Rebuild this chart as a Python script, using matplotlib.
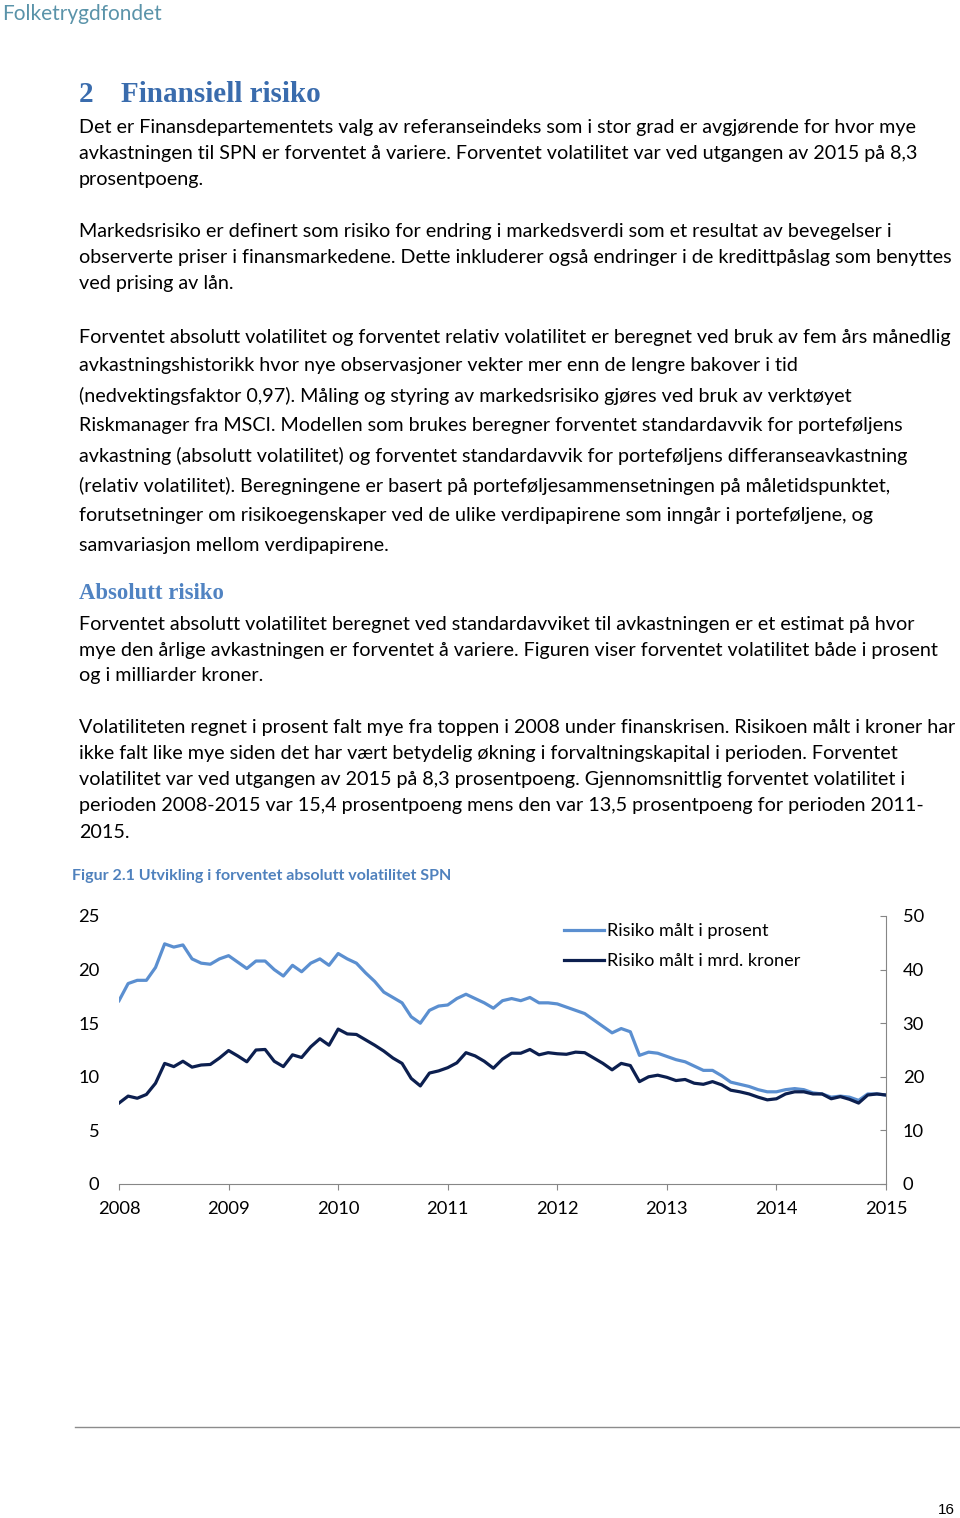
"""Page 16: Finansiell risiko with figure 2.1 (expected absolute volatility SPN)."""

import matplotlib

matplotlib.use("Agg")
import matplotlib.pyplot as plt
import numpy as np

# monthly observations, Jan 2008 .. Dec 2015 label span
risk_pct = [
    17.1, 18.7, 19.0, 19.0, 20.2, 22.4, 22.1, 22.3, 21.0, 20.6, 20.5, 21.0,
    21.3, 20.7, 20.1, 20.8, 20.8, 20.0, 19.4, 20.4, 19.8, 20.6, 21.0, 20.4,
    21.5, 21.0, 20.6, 19.7, 18.9, 17.9, 17.4, 16.9, 15.6, 15.0, 16.2, 16.6,
    16.7, 17.3, 17.7, 17.3, 16.9, 16.4, 17.1, 17.3, 17.1, 17.4, 16.9, 16.9,
    16.8, 16.5, 16.2, 15.9, 15.3, 14.7, 14.1, 14.5, 14.2, 12.0, 12.3, 12.2,
    11.9, 11.6, 11.4, 11.0, 10.6, 10.6, 10.1, 9.5, 9.3, 9.1, 8.8, 8.6,
    8.6, 8.8, 8.9, 8.8, 8.5, 8.4, 8.1, 8.2, 8.1, 7.8, 8.4, 8.4, 8.3,
]
risk_nok = [
    15.1, 16.4, 16.0, 16.7, 18.8, 22.5, 21.9, 22.9, 21.8, 22.2, 22.3, 23.5,
    24.9, 23.9, 22.8, 25.0, 25.1, 22.9, 21.9, 24.1, 23.6, 25.6, 27.1, 25.9,
    28.9, 28.0, 27.9, 26.9, 25.9, 24.8, 23.5, 22.5, 19.7, 18.3, 20.7, 21.1,
    21.7, 22.6, 24.5, 23.9, 22.9, 21.6, 23.3, 24.4, 24.4, 25.1, 24.1, 24.5,
    24.3, 24.2, 24.6, 24.5, 23.5, 22.5, 21.3, 22.5, 22.1, 19.1, 20.0, 20.3,
    19.9, 19.3, 19.5, 18.8, 18.6, 19.1, 18.5, 17.5, 17.2, 16.8, 16.2, 15.7,
    15.9, 16.8, 17.2, 17.2, 16.8, 16.8, 15.9, 16.3, 15.8, 15.1, 16.6, 16.8, 16.6,
]
year_labels = ["2008", "2009", "2010", "2011", "2012", "2013", "2014", "2015"]
left_ticks = [0, 5, 10, 15, 20, 25]
right_ticks = [0, 10, 20, 30, 40, 50]
series_labels = ["Risiko målt i prosent", "Risiko målt i mrd. kroner"]

body_lines = [
    (128, "Det er Finansdepartementets valg av referanseindeks som i stor grad er avgjørende for hvor mye"),
    (154, "avkastningen til SPN er forventet å variere. Forventet volatilitet var ved utgangen av 2015 på 8,3"),
    (180, "prosentpoeng."),
    (232, "Markedsrisiko er definert som risiko for endring i markedsverdi som et resultat av bevegelser i"),
    (258, "observerte priser i finansmarkedene. Dette inkluderer også endringer i de kredittpåslag som benyttes"),
    (284, "ved prising av lån."),
    (337, "Forventet absolutt volatilitet og forventet relativ volatilitet er beregnet ved bruk av fem års månedlig"),
    (366, "avkastningshistorikk hvor nye observasjoner vekter mer enn de lengre bakover i tid"),
    (396, "(nedvektingsfaktor 0,97). Måling og styring av markedsrisiko gjøres ved bruk av verktøyet"),
    (426, "Riskmanager fra MSCI. Modellen som brukes beregner forventet standardavvik for porteføljens"),
    (456, "avkastning (absolutt volatilitet) og forventet standardavvik for porteføljens differanseavkastning"),
    (486, "(relativ volatilitet). Beregningene er basert på porteføljesammensetningen på måletidspunktet,"),
    (516, "forutsetninger om risikoegenskaper ved de ulike verdipapirene som inngår i porteføljene, og"),
    (546, "samvariasjon mellom verdipapirene."),
    (624, "Forventet absolutt volatilitet beregnet ved standardavviket til avkastningen er et estimat på hvor"),
    (650, "mye den årlige avkastningen er forventet å variere. Figuren viser forventet volatilitet både i prosent"),
    (676, "og i milliarder kroner."),
    (728, "Volatiliteten regnet i prosent falt mye fra toppen i 2008 under finanskrisen. Risikoen målt i kroner har"),
    (754, "ikke falt like mye siden det har vært betydelig økning i forvaltningskapital i perioden. Forventet"),
    (780, "volatilitet var ved utgangen av 2015 på 8,3 prosentpoeng. Gjennomsnittlig forventet volatilitet i"),
    (806, "perioden 2008-2015 var 15,4 prosentpoeng mens den var 13,5 prosentpoeng for perioden 2011-"),
    (832, "2015."),
]

W, H = 960, 1518
FS = 14.2
CHART_FS = 13.2
plt.rcParams["font.family"] = ["Lato", "DejaVu Sans"]

fig = plt.figure(figsize=(W / 100, H / 100), dpi=100)


def px(x, y):
    return x / W, 1 - y / H


# header logo
fig.text(*px(2, 14), "Folketrygdfondet", fontsize=15, color="#5a93a9", va="center", ha="left")

# section headings
heading_color = "#3a6cad"
fig.text(*px(79, 95), "2", fontsize=21, fontweight="bold", family="Liberation Serif",
         color=heading_color, va="center")
fig.text(*px(121, 95), "Finansiell risiko", fontsize=21, fontweight="bold", family="Liberation Serif",
         color=heading_color, va="center")
fig.text(*px(79, 594), "Absolutt risiko", fontsize=16.4, fontweight="bold", family="Liberation Serif",
         color="#5083c2", va="center")

for y, line in body_lines:
    fig.text(*px(79, y), line, fontsize=FS, color="black", va="center", ha="left")

fig.text(*px(72, 876), "Figur 2.1 Utvikling i forventet absolutt volatilitet SPN", fontsize=11.5,
         fontweight="bold", color="#4f81bd", va="center", ha="left")

# chart
ax = fig.add_axes([119 / W, 1 - 1184 / H, 767 / W, 268 / H])
ax2 = ax.twinx()
x = np.arange(len(risk_pct))
light, dark = "#5b8fd0", "#0c1f4f"
l1, = ax.plot(x, risk_pct, color=light, lw=2.3, solid_joinstyle="round")
l2, = ax2.plot(x, risk_nok, color=dark, lw=2.3, solid_joinstyle="round")

ax.set_xlim(0, 84)
ax.set_ylim(0, 25)
ax2.set_ylim(0, 50)
ax.set_xticks(np.arange(0, 85, 12))
ax.set_xticklabels(year_labels)
ax.set_yticks(left_ticks)
ax2.set_yticks(right_ticks)

grey = "#868686"
for s in ["top", "left", "right"]:
    ax.spines[s].set_visible(False)
for s in ["top", "left", "bottom"]:
    ax2.spines[s].set_visible(False)
ax.spines["bottom"].set_color(grey)
ax2.spines["right"].set_color(grey)

ax.tick_params(axis="x", direction="out", length=4, color=grey, pad=8, labelsize=CHART_FS)
ax.tick_params(axis="y", length=0, pad=14, labelsize=CHART_FS)
ax2.tick_params(axis="y", direction="in", length=4, color=grey, pad=12, labelsize=CHART_FS)
ax.patch.set_visible(False)

fig.legend([l1, l2], series_labels, loc="upper left", bbox_to_anchor=px(557, 916),
           frameon=False, fontsize=13.1, handlelength=2.2, handletextpad=0.15,
           labelspacing=0.75, borderaxespad=0)

# footer
fig.add_artist(plt.Line2D([75 / W, 1.0], [1 - 1427 / H] * 2, color="#8c8c8c", lw=1))
fig.text(*px(946, 1510), "16", fontsize=11, family="Liberation Sans", va="center", ha="center")

fig.savefig("out.png", dpi=100)
